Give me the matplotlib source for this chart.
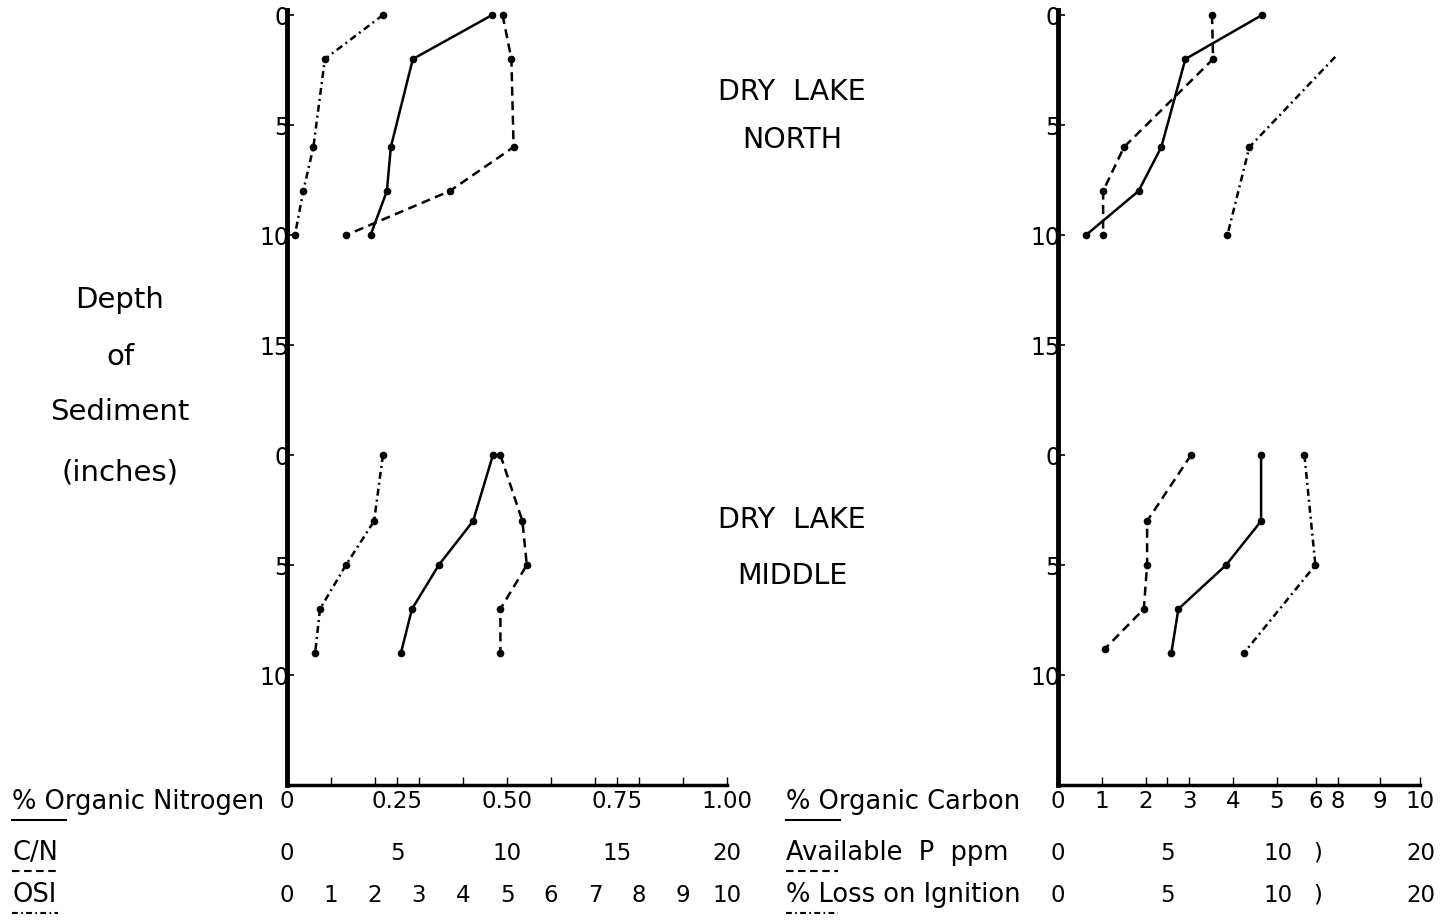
import numpy as np
import matplotlib
matplotlib.use("Agg")
import matplotlib.pyplot as plt
from matplotlib.lines import Line2D
from matplotlib.transforms import blended_transform_factory

# ---- Dry Lake North (depth in inches) ----
north_depth = [0, 2, 6, 8, 10]
north_nitrogen = [0.466, 0.286, 0.236, 0.227, 0.19]     # % organic N
north_cn = [9.8, 10.2, 10.3, 7.4, 2.7]                  # C/N
north_osi = [2.18, 0.86, 0.6, 0.37, 0.18]               # OSI
north_carbon = [4.66, 2.91, 2.36, 1.84, 0.64]           # % organic C
north_p = [7.0, 7.05, 3.0, 2.05, 2.05]                  # available P ppm
north_loi_depth = [1.9, 6, 10]
north_loi = [12.6, 8.7, 7.7]                            # % loss on ignition

# ---- Dry Lake Middle ----
middle_depth = [0, 3, 5, 7, 9]
middle_nitrogen = [0.468, 0.423, 0.345, 0.284, 0.259]
middle_cn = [9.7, 10.7, 10.9, 9.7, 9.7]
middle_osi = [2.18, 1.98, 1.34, 0.75, 0.64]
middle_carbon = [4.64, 4.64, 3.84, 2.75, 2.59]
middle_p_depth = [0, 3, 5, 7, 8.8]
middle_p = [6.05, 4.05, 4.05, 3.9, 2.14]
middle_loi_depth = [0, 5, 9]
middle_loi = [11.2, 11.7, 8.45]

# axis labels
depth_ticks = [0, 5, 10, 15, 20, 25, 30]
depth_labels = ["0", "5", "10", "15", "0", "5", "10"]
middle_offset = 20

nitrogen_labels = ["0", "0.25", "0.50", "0.75", "1.00"]
cn_labels = ["0", "5", "10", "15", "20"]
osi_labels = [str(i) for i in range(11)]
carbon_pos = [0, 1, 2, 3, 4, 5, 5.89, 6.39, 7.36, 8.27]
carbon_labels = ["0", "1", "2", "3", "4", "5", "6", "8", "9", "10"]
p_pos = [0, 5, 10, 11.8, 16.5]
p_labels = ["0", "5", "10", ")", "20"]

plt.rcParams["font.family"] = ["DejaVu Sans"]
FS = 16.5        # numbers
FS_NAME = 18.5   # row names
FS_TITLE = 20.5  # titles

SOLID = "-"
DASHED = (0, (3.6, 2.2))
DASHDOT = (0, (2.8, 1.6, 0.8, 1.6))
LW = 1.8


def profile(ax, x, depth, ls, offset=0, markevery=None):
    ax.plot(x, np.array(depth) + offset, color="black", linestyle=ls, lw=LW,
            marker="o", ms=4.5, markevery=markevery, clip_on=False)


def setup(ax, xmax):
    ax.set_xlim(0, xmax)
    ax.set_ylim(35, -0.23)
    for s in ["top", "right"]:
        ax.spines[s].set_visible(False)
    ax.spines["left"].set_linewidth(3.5)
    ax.spines["bottom"].set_linewidth(2.5)
    ax.set_yticks(depth_ticks)
    ax.set_yticklabels(depth_labels, fontsize=17)
    ax.tick_params(axis="y", direction="in", length=5, width=1.2, pad=-2)
    ax.tick_params(axis="x", direction="in", length=6, width=1.0, labelbottom=False)


def twin(ax, xmax):
    t = ax.twiny()
    t.set_xlim(0, xmax)
    t.axis("off")
    return t


fig = plt.figure(figsize=(14.46, 9.24), dpi=100)
W, H = 1446, 924

# ---------------- left panel ----------------
axl = fig.add_axes([287 / W, 1 - 785 / H, 440 / W, 775 / H])
setup(axl, 1.0)
axl.set_xticks(list(np.arange(0, 1.01, 0.1)) + [0.25, 0.75])
axl_cn = twin(axl, 20)
axl_osi = twin(axl, 10)

profile(axl, north_nitrogen, north_depth, SOLID)
profile(axl_cn, north_cn, north_depth, DASHED)
profile(axl_osi, north_osi, north_depth, DASHDOT)
profile(axl, middle_nitrogen, middle_depth, SOLID, middle_offset)
profile(axl_cn, middle_cn, middle_depth, DASHED, middle_offset)
profile(axl_osi, middle_osi, middle_depth, DASHDOT, middle_offset)

# ---------------- right panel ----------------
axr = fig.add_axes([1058 / W, 1 - 785 / H, 362 / W, 775 / H])
setup(axr, 362 / 44)
axr.set_xticks(carbon_pos + [2.5])
axr_p = twin(axr, 2 * 362 / 44)

profile(axr, north_carbon, north_depth, SOLID)
profile(axr_p, north_p, north_depth, DASHED)
profile(axr_p, north_loi, north_loi_depth, DASHDOT, markevery=[1, 2])
profile(axr, middle_carbon, middle_depth, SOLID, middle_offset)
profile(axr_p, middle_p, middle_p_depth, DASHED, middle_offset)
profile(axr_p, middle_loi, middle_loi_depth, DASHDOT, middle_offset)

# ---------------- scale rows below axes ----------------
row_y = [1 - 802 / H, 1 - 853 / H, 1 - 895 / H]


def scale_row(ax, positions, labels, y):
    tr = blended_transform_factory(ax.transData, fig.transFigure)
    for p, lab in zip(positions, labels):
        ax.text(p, y, lab, transform=tr, ha="center", va="center",
                fontsize=FS, clip_on=False)


scale_row(axl, [0, 0.25, 0.5, 0.75, 1.0], nitrogen_labels, row_y[0])
scale_row(axl_cn, [0, 5, 10, 15, 20], cn_labels, row_y[1])
scale_row(axl_osi, range(11), osi_labels, row_y[2])
scale_row(axr, carbon_pos, carbon_labels, row_y[0])
scale_row(axr_p, p_pos, p_labels, row_y[1])
scale_row(axr_p, p_pos, p_labels, row_y[2])

# row names with line-style key underneath
row_names = [
    (12, "% Organic Nitrogen", SOLID, 54),
    (12, "C/N", DASHED, 44),
    (12, "OSI", DASHDOT, 46),
    (786, "% Organic Carbon", SOLID, 54),
    (786, "Available  P  ppm", DASHED, 52),
    (786, "% Loss on Ignition", DASHDOT, 52),
]
for i, (x0, name, ls, ulen) in enumerate(row_names):
    y = row_y[i % 3]
    fig.text(x0 / W, y, name, ha="left", va="center", fontsize=FS_NAME)
    yl = y - 18 / H
    fig.add_artist(Line2D([x0 / W, (x0 + ulen) / W], [yl, yl],
                          transform=fig.transFigure, color="black",
                          lw=1.5, linestyle=ls))

# ---------------- titles ----------------
for txt, yy in [("Depth", 300), ("of", 357), ("Sediment", 412), ("(inches)", 472)]:
    fig.text(120 / W, 1 - yy / H, txt, ha="center", va="center", fontsize=21)

for txt, yy in [("DRY  LAKE", 92), ("NORTH", 140), ("DRY  LAKE", 520), ("MIDDLE", 576)]:
    fig.text(792 / W, 1 - yy / H, txt, ha="center", va="center", fontsize=FS_TITLE)

fig.savefig("out.png", dpi=100)
